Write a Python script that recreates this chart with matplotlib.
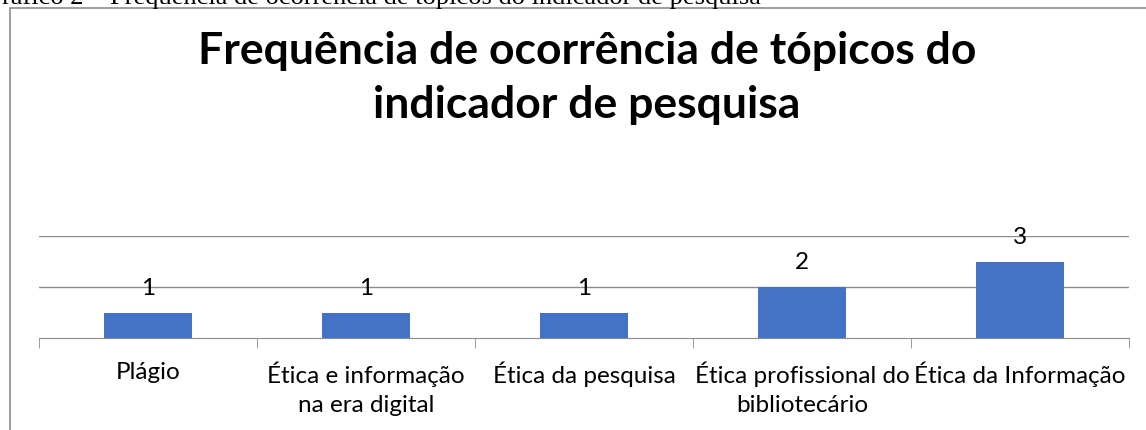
import matplotlib.pyplot as plt
from matplotlib.patches import Rectangle

categories = ['Plágio', 'Ética e informação\nna era digital', 'Ética da pesquisa',
              'Ética profissional do\nbibliotecário', 'Ética da Informação']
values = [1, 1, 1, 2, 3]
title = 'Frequência de ocorrência de tópicos do\nindicador de pesquisa'
caption = 'Gráfico 2 – Frequência de ocorrência de tópicos do indicador de pesquisa'

W, H = 1146, 430
plt.rcParams['font.family'] = ['Lato', 'DejaVu Sans']
fig = plt.figure(figsize=(W / 100, H / 100), dpi=100)

# chart frame (cut off at right and bottom)
fig.patches.append(Rectangle((10 / W, -0.1), 1.2, 1 - 8 / H + 0.1, transform=fig.transFigure,
                             fill=False, edgecolor='#8c8c8c', linewidth=1.2))
# caption above the chart, cut off by the top edge like in the source
fig.text(-17 / W, 1 - 4 / H, caption, family='Liberation Serif', fontsize=19,
         ha='left', va='baseline', color='black')

fig.text(0.512, 1 - 78 / H, title, ha='center', va='center', fontsize=32,
         fontweight='bold', linespacing=1.4)

ax = fig.add_axes([39 / W, 1 - 338 / H, (1129 - 39) / W, (338 - 236) / H])
x = list(range(len(categories)))
bars = ax.bar(x, values, width=0.4, color='#4472C4', zorder=3)
ax.bar_label(bars, padding=10, fontsize=17.5)

ax.set_xlim(-0.5, len(categories) - 0.5)
ax.set_ylim(0, 4)
ax.set_yticks([2, 4])
ax.yaxis.grid(True, color='#8c8c8c', linewidth=1)
ax.tick_params(axis='y', left=False, labelleft=False)
for s in ['top', 'right', 'left']:
    ax.spines[s].set_visible(False)
ax.spines['bottom'].set_color('#8c8c8c')

ax.set_xticks(x)
ax.set_xticklabels(categories, fontsize=17.5, linespacing=1.45)
ax.set_xticks([i - 0.5 for i in range(len(categories) + 1)], minor=True)
ax.tick_params(axis='x', which='major', length=0, pad=17)
ax.tick_params(axis='x', which='minor', length=7, color='#8c8c8c')

fig.savefig('out.png', dpi=100)
